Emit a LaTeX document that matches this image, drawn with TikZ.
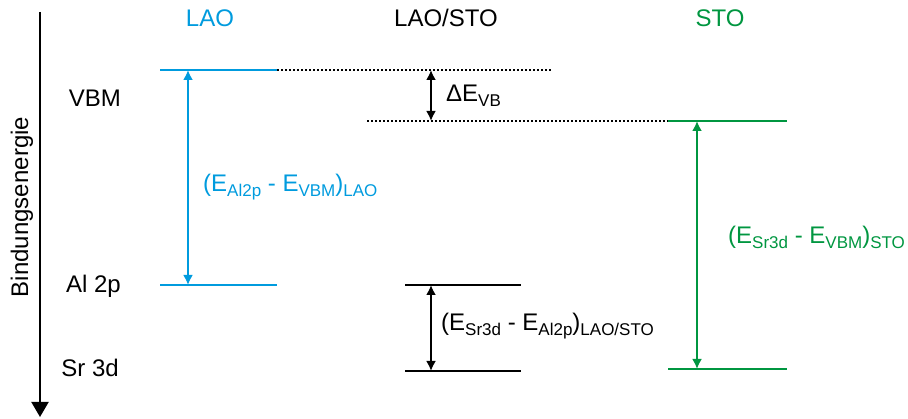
\documentclass[tikz,border=0pt]{standalone}
\usepackage{fontspec}
\setmainfont{Liberation Sans}
\usetikzlibrary{arrows.meta}
\definecolor{laoblue}{RGB}{0,155,222}
\definecolor{stogreen}{RGB}{0,150,64}
\newcommand\lsub[1]{\raisebox{-5pt}{\fontsize{17}{18}\selectfont #1}}
\begin{document}
\begin{tikzpicture}[x=1pt,y=-1pt,
  level/.style={line width=2.5pt},
  gap/.style={line width=2pt,dash pattern=on 2pt off 2pt},
  span/.style={{Latex[length=10pt,width=10pt]}-{Latex[length=10pt,width=10pt]},line width=2pt},
  lbl/.style={font=\fontsize{24}{28}\selectfont,inner sep=0pt}
  ]
  \useasboundingbox (0,0) rectangle (908,419);
  % energy axis
  \coordinate (axtop) at (40,12);
  \coordinate (axbot) at (40,417);
  \draw[line width=2pt,-{Triangle[length=15pt,width=17pt]}] (axtop) -- (axbot);
  \node[lbl,rotate=90,anchor=base] (axis) at (28,207) {Bindungsenergie};
  % column titles
  \node[lbl,text=laoblue,anchor=base] (tlao) at (210,27) {LAO};
  \node[lbl,anchor=base] (tif) at (446,27) {LAO/STO};
  \node[lbl,text=stogreen,anchor=base] (tsto) at (720,27) {STO};
  % level names
  \node[lbl,anchor=base east] (vbm) at (121,107) {VBM};
  \node[lbl,anchor=base east] (al) at (121,293) {Al 2p};
  \node[lbl,anchor=base east] (sr) at (119,377) {Sr 3d};
  % LAO
  \coordinate (laov1) at (160,70);
  \coordinate (laov2) at (277,70);
  \coordinate (laoa1) at (160,285);
  \coordinate (laoa2) at (277,285);
  \coordinate (laoup) at (188,70);
  \coordinate (laodn) at (188,285);
  \draw[level,laoblue] (laov1) -- (laov2);
  \draw[level,laoblue] (laoa1) -- (laoa2);
  \draw[span,laoblue] (laoup) -- (laodn);
  \node[lbl,text=laoblue,anchor=base west] (laod) at (203,192)
    {(E\lsub{Al2p} - E\lsub{VBM})\lsub{LAO}};
  % LAO/STO
  \coordinate (ifv) at (552,70);
  \coordinate (ifw) at (367,121);
  \coordinate (ifa1) at (405,285);
  \coordinate (ifa2) at (521,285);
  \coordinate (ifs1) at (405,371);
  \coordinate (ifs2) at (521,371);
  \coordinate (vbup) at (431,70);
  \coordinate (vbdn) at (431,121);
  \coordinate (ifup) at (431,285);
  \coordinate (ifdn) at (431,371);
  \draw[gap] (laov2) -- (ifv);
  \draw[level] (ifa1) -- (ifa2);
  \draw[level] (ifs1) -- (ifs2);
  \draw[span] (vbup) -- (vbdn);
  \draw[span] (ifup) -- (ifdn);
  \node[lbl,anchor=base west] (dvb) at (446,102) {ΔE\lsub{VB}};
  \node[lbl,anchor=base west] (ifd) at (441,331)
    {(E\lsub{Sr3d} - E\lsub{Al2p})\lsub{LAO/STO}};
  % STO
  \coordinate (stov1) at (668,121);
  \coordinate (stov2) at (787,121);
  \coordinate (stos1) at (668,369);
  \coordinate (stos2) at (787,369);
  \coordinate (stoup) at (697,121);
  \coordinate (stodn) at (697,369);
  \draw[gap] (ifw) -- (stov1);
  \draw[level,stogreen] (stov1) -- (stov2);
  \draw[level,stogreen] (stos1) -- (stos2);
  \draw[span,stogreen] (stoup) -- (stodn);
  \node[lbl,text=stogreen,anchor=base west] (stod) at (728,244)
    {(E\lsub{Sr3d} - E\lsub{VBM})\lsub{STO}};
\end{tikzpicture}
\end{document}
